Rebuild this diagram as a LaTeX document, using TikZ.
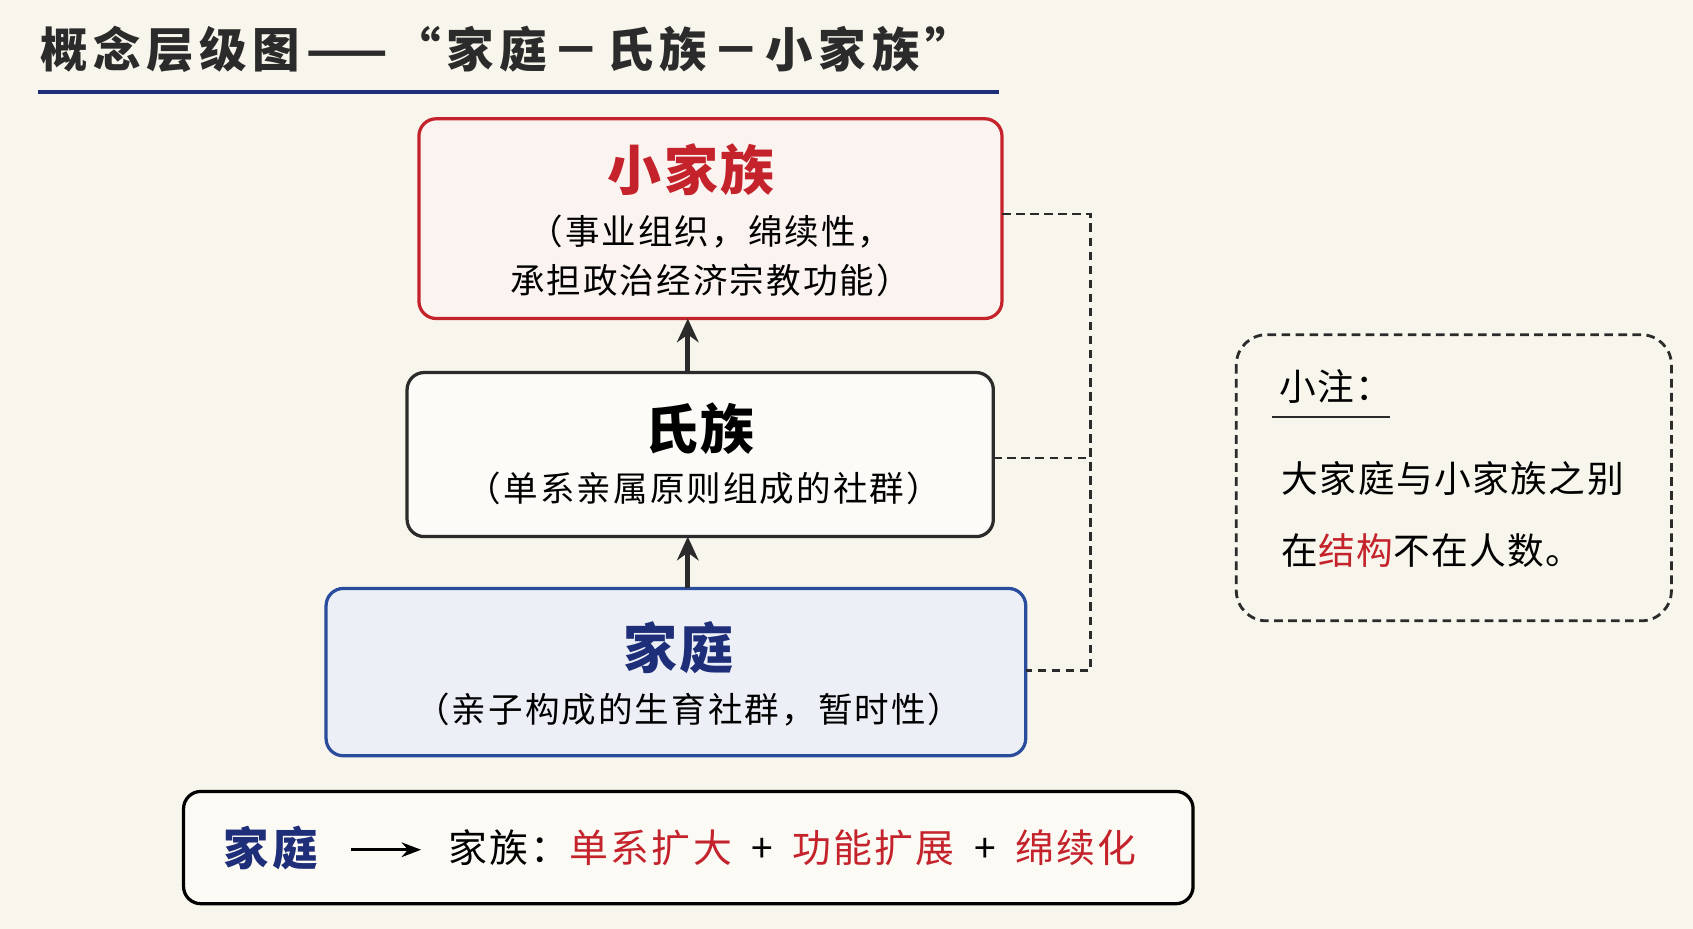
\documentclass[tikz,border=0pt]{standalone}
\usepackage{fontspec}
\setmainfont{Noto Sans CJK SC}
\usetikzlibrary{arrows.meta}
\definecolor{bg}{HTML}{F8F5EC}
\definecolor{myred}{HTML}{C4232B}
\definecolor{navy}{HTML}{1E2E78}
\definecolor{bborder}{HTML}{2A4C9C}
\definecolor{bfill}{HTML}{ECF0F6}
\definecolor{rfill}{HTML}{FBF3F0}
\definecolor{dk}{HTML}{2B2B2B}
\begin{document}
\begin{tikzpicture}[x=0.5pt,y=-0.5pt,
  box/.style={draw,rounded corners=8pt,line width=1.5pt},
  sub/.style={font=\fontsize{16}{23}\selectfont\addfontfeature{LetterSpace=6},align=center},
  head/.style={font=\fontsize{25}{28}\selectfont\bfseries\addfontfeature{LetterSpace=4}},
  arr/.style={-{Stealth[length=11pt,width=10pt]},line width=2.4pt,dk},
  dsh/.style={dash pattern=on 4pt off 2.5pt,line width=1.1pt,dk}]
\fill[bg] (0,0) rectangle (1568,860);
\useasboundingbox (0,0) rectangle (1568,860);
\node[anchor=west,font=\fontsize{22}{24}\selectfont\bfseries\addfontfeature{LetterSpace=12},text=dk] (title) at (30,46) {概念层级图——“家庭－氏族－小家族”};
\draw[navy,line width=2pt] (35,85) -- (925,85);
% boxes
\draw[box,myred,fill=rfill] (388,110) rectangle (928,295);
\node[head,text=myred] (t3) at (640,157) {小家族};
\node[sub] (s3) at (658,237) {（事业组织，绵续性，\\承担政治经济宗教功能）};
\coordinate (b3) at (637,295); \coordinate (r3) at (928,198);
\draw[box,dk,fill=white!60!bg] (377,345) rectangle (920,497);
\node[head,text=black] (t2) at (648,397) {氏族};
\node[sub] (s2) at (652,452) {（单系亲属原则组成的社群）};
\coordinate (top2) at (637,345); \coordinate (b2) at (637,497); \coordinate (r2) at (920,424);
\draw[box,bborder,fill=bfill] (302,545) rectangle (950,700);
\node[head,text=navy] (t1) at (628,600) {家庭};
\node[sub] (s1) at (638,657) {（亲子构成的生育社群，暂时性）};
\coordinate (top1) at (637,545); \coordinate (r1) at (950,621);
\draw[arr] (top1) -- (b2);
\draw[arr] (top2) -- (b3);
% bracket
\coordinate (k3) at (1010,198); \coordinate (k2) at (1010,424); \coordinate (k1) at (1010,621);
\draw[dsh] (r3) -- (k3) -- (k1) -- (r1);
\draw[dsh] (r2) -- (k2);
% note
\draw[dsh,rounded corners=14pt,line width=1.3pt] (1145,310) rectangle (1548,575);
\node[anchor=west,font=\fontsize{17}{20}\selectfont\addfontfeature{LetterSpace=4}] (n0) at (1178,358) {小注：};
\draw[dk,line width=1pt] (1178,386) -- (1287,386);
\node[anchor=west,font=\fontsize{17}{20}\selectfont\addfontfeature{LetterSpace=4}] (n1) at (1180,443) {大家庭与小家族之别};
\node[anchor=west,font=\fontsize{17}{20}\selectfont\addfontfeature{LetterSpace=4}] (n2) at (1180,510) {在\textcolor{myred}{结构}不在人数。};
% bottom
\draw[box,black,fill=white!50!bg] (170,733) rectangle (1105,837);
\node[anchor=west,font=\fontsize{21}{24}\selectfont\bfseries\addfontfeature{LetterSpace=8},text=navy] (f) at (200,785) {家庭};
\coordinate (a1) at (325,787); \coordinate (a2) at (390,787);
\draw[-{Stealth[length=9pt]},line width=1.6pt] (a1) -- (a2);
\node[anchor=west,font=\fontsize{18}{22}\selectfont\addfontfeature{LetterSpace=6}] (g) at (408,785) {家族：\textcolor{myred}{单系扩大}\enspace+\enspace\textcolor{myred}{功能扩展}\enspace+\enspace\textcolor{myred}{绵续化}};
\end{tikzpicture}
\end{document}
